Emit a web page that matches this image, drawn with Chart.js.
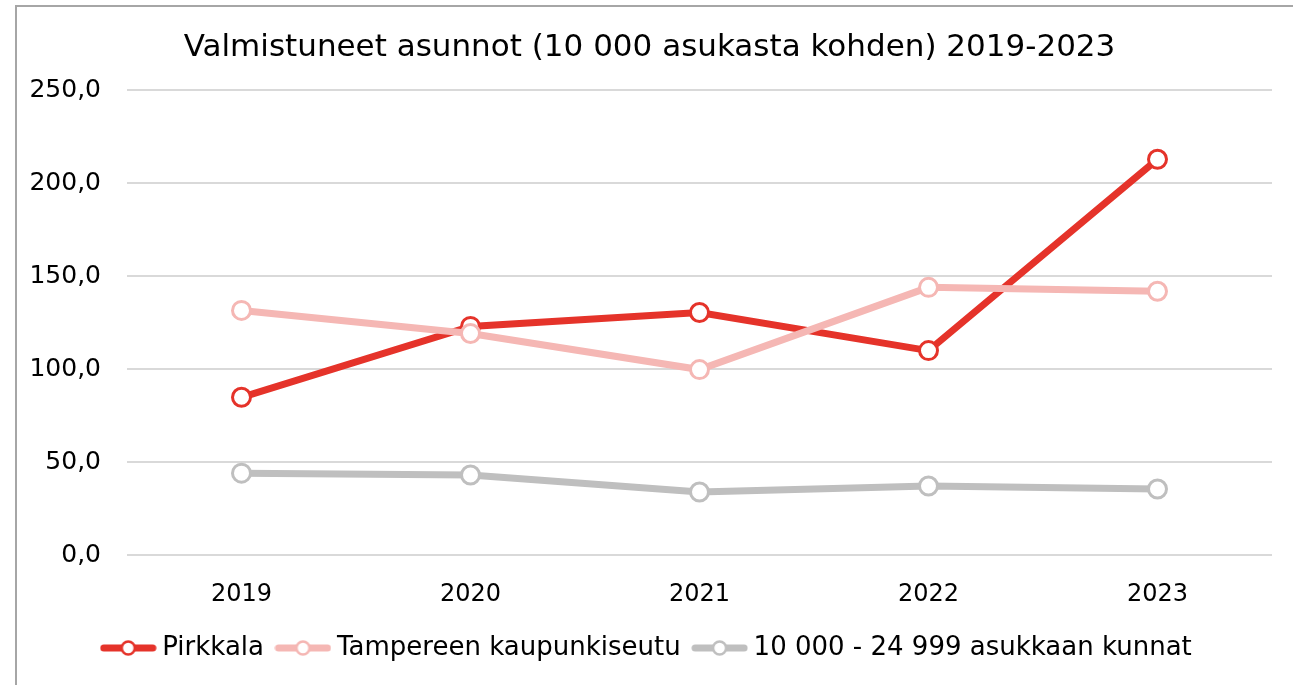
<!DOCTYPE html>
<html>
<head>
<meta charset="utf-8">
<script src="https://cdn.jsdelivr.net/npm/chart.js@4/dist/chart.umd.min.js"></script>
<style>
  html, body { margin: 0; padding: 0; background: #fff; }
  body { width: 1293px; height: 685px; position: relative; overflow: hidden; }
  #frame { position: absolute; left: 15px; top: 5px; width: 1300px; height: 700px;
           border-left: 2px solid #a6a6a6; border-top: 2px solid #a6a6a6; }
  #wrap { position: absolute; left: 17px; top: 7px; width: 1276px; height: 678px; }
</style>
</head>
<body>
<div id="frame"></div>
<div id="wrap"><canvas id="c"></canvas></div>
<script>
const categories = ["2019", "2020", "2021", "2022", "2023"];
const pirkkala = [84.9, 123.0, 130.5, 110.0, 212.9];
const tampereenSeutu = [131.6, 119.2, 99.8, 144.0, 141.9];
const kunnat = [44.1, 43.1, 34.0, 37.2, 35.6];
const seriesNames = ["Pirkkala", "Tampereen kaupunkiseutu", "10 000 - 24 999 asukkaan kunnat"];
const seriesColors = ["#E5332A", "#F5B7B4", "#BFBFBF"];
const titleText = "Valmistuneet asunnot (10 000 asukasta kohden) 2019-2023";

const FONT = "'DejaVu Sans', sans-serif";

function legendIcon(color) {
  const c = document.createElement('canvas');
  c.width = 57; c.height = 18;
  const ctx = c.getContext('2d');
  ctx.strokeStyle = color;
  ctx.lineWidth = 7;
  ctx.lineCap = 'round';
  ctx.beginPath();
  ctx.moveTo(4, 9); ctx.lineTo(53, 9);
  ctx.stroke();
  ctx.beginPath();
  ctx.arc(28.5, 9, 6.5, 0, Math.PI * 2);
  ctx.fillStyle = '#fff';
  ctx.fill();
  ctx.lineWidth = 2.5;
  ctx.stroke();
  return c;
}

const values = [pirkkala, tampereenSeutu, kunnat];
const datasets = values.map((v, i) => ({
  label: seriesNames[i],
  data: v,
  borderColor: seriesColors[i],
  backgroundColor: '#ffffff',
  borderWidth: 7,
  pointRadius: 9,
  pointHoverRadius: 9,
  pointBorderWidth: 3,
  pointBackgroundColor: '#ffffff',
  pointBorderColor: seriesColors[i],
  pointStyle: 'circle',
  _icon: legendIcon(seriesColors[i]),
  tension: 0,
  order: 3 - i
}));

new Chart(document.getElementById('c'), {
  type: 'line',
  data: { labels: categories, datasets },
  options: {
    responsive: true,
    maintainAspectRatio: false,
    animation: false,
    layout: { padding: { left: 10, right: 21, top: 20, bottom: 14 } },
    plugins: {
      title: {
        display: true,
        text: titleText,
        color: '#000',
        font: { family: FONT, size: 31, weight: 'normal' },
        padding: { top: 2, bottom: 24 }
      },
      legend: {
        position: 'bottom',
        labels: {
          color: '#000',
          font: { family: FONT, size: 26 },
          usePointStyle: true,
          pointStyleWidth: 42,
          boxHeight: 18,
          padding: 18,
          generateLabels(chart) {
            return chart.data.datasets.map((d, i) => ({
              text: d.label,
              pointStyle: d._icon,
              fillStyle: '#fff',
              strokeStyle: d.borderColor,
              lineWidth: 0,
              hidden: false,
              datasetIndex: i
            }));
          }
        }
      },
      tooltip: { enabled: false }
    },
    scales: {
      x: {
        offset: true,
        grid: { display: false, drawTicks: false },
        border: { display: false },
        afterFit(axis) { axis.height -= 17; },
        ticks: { color: '#000', font: { family: FONT, size: 24 }, padding: 25 }
      },
      y: {
        min: 0, max: 250,
        grid: { color: '#d9d9d9', lineWidth: 2, drawTicks: false },
        border: { display: false },
        afterFit(axis) { axis.width = 100; },
        ticks: {
          stepSize: 50,
          color: '#000',
          font: { family: FONT, size: 25 },
          padding: 26,
          callback: v => v.toFixed(1).replace('.', ',')
        }
      }
    }
  }
});
</script>
</body>
</html>
